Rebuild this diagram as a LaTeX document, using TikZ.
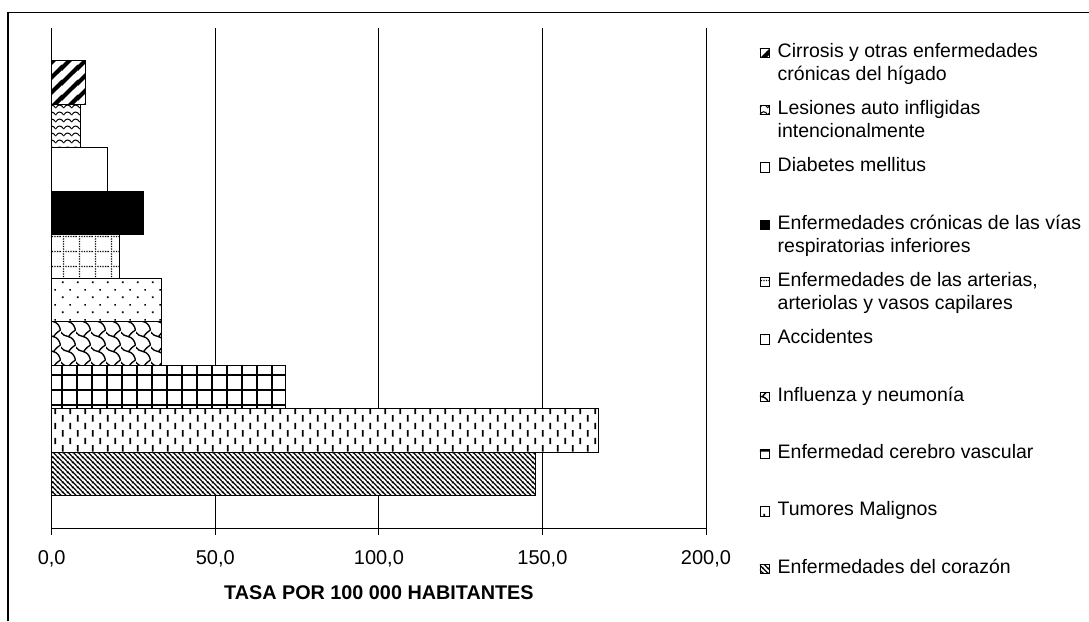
\documentclass[tikz,border=0pt]{standalone}
\usepackage{fontspec}
\setmainfont{Liberation Sans}
\usetikzlibrary{patterns}
% ---------- patterns (pgf units, y up) ----------
\pgfdeclarepatternformonly{wideup}{\pgfpointorigin}{\pgfpoint{15.4pt}{15.4pt}}{\pgfpoint{15.4pt}{15.4pt}}{%
  \pgfsetlinewidth{4.2pt}%
  \pgfpathmoveto{\pgfpoint{-2pt}{-2pt}}\pgfpathlineto{\pgfpoint{17.4pt}{17.4pt}}%
  \pgfpathmoveto{\pgfpoint{-2pt}{13.4pt}}\pgfpathlineto{\pgfpoint{2pt}{17.4pt}}%
  \pgfpathmoveto{\pgfpoint{13.4pt}{-2pt}}\pgfpathlineto{\pgfpoint{17.4pt}{2pt}}%
  \pgfusepath{stroke}}
\pgfdeclarepatternformonly{darkdown}{\pgfpointorigin}{\pgfpoint{4.8pt}{4.8pt}}{\pgfpoint{4.8pt}{4.8pt}}{%
  \pgfsetlinewidth{1.25pt}%
  \pgfpathmoveto{\pgfpoint{-1pt}{5.8pt}}\pgfpathlineto{\pgfpoint{5.8pt}{-1pt}}%
  \pgfpathmoveto{\pgfpoint{-1pt}{1pt}}\pgfpathlineto{\pgfpoint{1pt}{-1pt}}%
  \pgfpathmoveto{\pgfpoint{3.8pt}{5.8pt}}\pgfpathlineto{\pgfpoint{5.8pt}{3.8pt}}%
  \pgfusepath{stroke}}
\pgfdeclarepatternformonly{wavy}{\pgfpointorigin}{\pgfpoint{8pt}{7pt}}{\pgfpoint{8pt}{7pt}}{%
  \pgfsetlinewidth{1.1pt}%
  \pgfpathmoveto{\pgfpoint{-0.5pt}{2.2pt}}%
  \pgfpathcurveto{\pgfpoint{1.2pt}{4.5pt}}{\pgfpoint{2.5pt}{5.6pt}}{\pgfpoint{4pt}{5.6pt}}%
  \pgfpathcurveto{\pgfpoint{5.5pt}{5.6pt}}{\pgfpoint{6.8pt}{4.5pt}}{\pgfpoint{8.5pt}{2.2pt}}%
  \pgfusepath{stroke}}
\pgfdeclarepatternformonly{dotgrid}{\pgfpointorigin}{\pgfpoint{15.4pt}{15.4pt}}{\pgfpoint{15.4pt}{15.4pt}}{%
  \foreach \i in {0,1,...,5}{\pgfpathrectangle{\pgfpoint{\i*2.566pt+1pt}{1pt}}{\pgfpoint{1.3pt}{1.3pt}}}%
  \foreach \i in {1,...,5}{\pgfpathrectangle{\pgfpoint{1pt}{\i*2.566pt+1pt}}{\pgfpoint{1.3pt}{1.3pt}}}%
  \pgfusepath{fill}}
\pgfdeclarepatternformonly{sparsedots}{\pgfpointorigin}{\pgfpoint{15.4pt}{15.4pt}}{\pgfpoint{15.4pt}{15.4pt}}{%
  \pgfpathrectangle{\pgfpoint{1pt}{1pt}}{\pgfpoint{1.6pt}{1.6pt}}%
  \pgfpathrectangle{\pgfpoint{8.7pt}{8.7pt}}{\pgfpoint{1.6pt}{1.6pt}}%
  \pgfusepath{fill}}
\pgfdeclarepatternformonly{shingle}{\pgfpointorigin}{\pgfpoint{15.4pt}{15.4pt}}{\pgfpoint{15.4pt}{15.4pt}}{%
  \pgfsetlinewidth{1.4pt}%
  \pgfpathmoveto{\pgfpoint{-0.5pt}{13.5pt}}%
  \pgfpathcurveto{\pgfpoint{2pt}{11pt}}{\pgfpoint{4pt}{8.6pt}}{\pgfpoint{7.7pt}{8.6pt}}%
  \pgfpathcurveto{\pgfpoint{11pt}{8pt}}{\pgfpoint{14pt}{5pt}}{\pgfpoint{14.9pt}{0pt}}%
  \pgfpathlineto{\pgfpoint{14.9pt}{-1pt}}%
  \pgfpathmoveto{\pgfpoint{14.9pt}{15.4pt}}\pgfpathlineto{\pgfpoint{14.9pt}{16.4pt}}%
  \pgfpathmoveto{\pgfpoint{7.7pt}{8.6pt}}%
  \pgfpathcurveto{\pgfpoint{9pt}{10.5pt}}{\pgfpoint{11pt}{13pt}}{\pgfpoint{14.9pt}{15.4pt}}%
  \pgfusepath{stroke}}
\pgfdeclarepatternformonly{bigrid}{\pgfpointorigin}{\pgfpoint{15.4pt}{15.4pt}}{\pgfpoint{15.4pt}{15.4pt}}{%
  \pgfpathrectangle{\pgfpoint{0pt}{0pt}}{\pgfpoint{2pt}{15.4pt}}%
  \pgfpathrectangle{\pgfpoint{0pt}{0pt}}{\pgfpoint{15.4pt}{2pt}}%
  \pgfusepath{fill}}
\pgfdeclarepatternformonly{vdash}{\pgfpointorigin}{\pgfpoint{15.4pt}{15.4pt}}{\pgfpoint{15.4pt}{15.4pt}}{%
  \pgfpathrectangle{\pgfpoint{1pt}{0.5pt}}{\pgfpoint{1.8pt}{6.5pt}}%
  \pgfpathrectangle{\pgfpoint{8.7pt}{8.2pt}}{\pgfpoint{1.8pt}{6.5pt}}%
  \pgfusepath{fill}}
% ---------- styles ----------
\tikzset{
  frameline/.style={line width=1.3pt},
  gridline/.style={line width=1pt},
  barbox/.style={draw=black, line width=1pt, preaction={fill=white}},
  tick/.style={font=\fontsize{20}{24}\selectfont, anchor=base},
  axtitle/.style={font=\bfseries\fontsize{19.8}{24}\selectfont, anchor=base},
  legtext/.style={font=\fontsize{19.5}{23}\selectfont, anchor=base west, inner sep=0pt},
  legmark/.style={draw=black, line width=0.9pt, minimum size=9.5pt, inner sep=0pt, anchor=south west, preaction={fill=white}},
}
\newcommand{\twoline}[2]{\vtop{\hbox{#1}\hbox{#2}}}
\begin{document}
\begin{tikzpicture}[x=1pt,y=-1pt]
\useasboundingbox (0,0) rectangle (1089,621);
% outer frame
\draw[frameline] (8,621) -- (8,12.5) -- (1089,12.5);
% gridlines
\foreach \v in {50,100,150,200}{
  \draw[gridline] ({51.7+3.2715*\v},28) -- ({51.7+3.2715*\v},535);
}
% bars (value -> x = 51.7 + 3.2715*value), band height 43.5
\def\bx#1{51.7+3.2715*#1}
\draw[barbox, pattern=wideup]     (51.7,60.5)  rectangle ({\bx{10.2}},104);
\draw[barbox, pattern=wavy]       (51.7,104)   rectangle ({\bx{8.7}},147.5);
\draw[barbox, fill=white]         (51.7,147.5) rectangle ({\bx{17.2}},191);
\draw[barbox, fill=black]         (51.7,191)   rectangle ({\bx{28.2}},234.5);
\draw[barbox, pattern=dotgrid]    (51.7,234.5) rectangle ({\bx{20.6}},278);
\draw[barbox, pattern=sparsedots] (51.7,278)   rectangle ({\bx{33.7}},321.5);
\draw[barbox, pattern=shingle]    (51.7,321.5) rectangle ({\bx{33.6}},365);
\draw[barbox, pattern=bigrid]     (51.7,365)   rectangle ({\bx{71.6}},408.5);
\draw[barbox, pattern=vdash]      (51.7,408.5) rectangle ({\bx{167}},452);
\draw[barbox, pattern=darkdown]   (51.7,452)   rectangle ({\bx{148}},495.5);
% axes
\draw[gridline] (51.7,28) -- (51.7,535);
\draw[gridline] (51.7,528) -- (706,528);
% tick labels
\node[tick] (t0)   at (51.7,564)  {0,0};
\node[tick] (t50)  at (215.3,564) {50,0};
\node[tick] (t100) at (378.9,564) {100,0};
\node[tick] (t150) at (542.4,564) {150,0};
\node[tick] (t200) at (706,564)   {200,0};
\node[axtitle] (xtitle) at (378.9,599) {TASA POR 100 000 HABITANTES};
% legend
\def\lx{777.5}
\def\mx{759.5}
\node[legmark, pattern=wideup]     (m1)  at (\mx,58)    {};
\node[legtext] (l1)  at (\lx,57)    {\twoline{Cirrosis y otras enfermedades}{crónicas del hígado}};
\node[legmark, pattern=wavy]       (m2)  at (\mx,115.3) {};
\node[legtext] (l2)  at (\lx,114.3) {\twoline{Lesiones auto infligidas}{intencionalmente}};
\node[legmark, fill=white]         (m3)  at (\mx,172.7) {};
\node[legtext] (l3)  at (\lx,171.7) {Diabetes mellitus};
\node[legmark, fill=black]         (m4)  at (\mx,230)   {};
\node[legtext] (l4)  at (\lx,229)   {\twoline{Enfermedades crónicas de las vías}{respiratorias inferiores}};
\node[legmark, pattern=dotgrid]    (m5)  at (\mx,287.3) {};
\node[legtext] (l5)  at (\lx,286.3) {\twoline{Enfermedades de las arterias,}{arteriolas y vasos capilares}};
\node[legmark, pattern=sparsedots] (m6)  at (\mx,344.7) {};
\node[legtext] (l6)  at (\lx,343.7) {Accidentes};
\node[legmark, pattern=shingle]    (m7)  at (\mx,402)   {};
\node[legtext] (l7)  at (\lx,401)   {Influenza y neumonía};
\node[legmark, pattern=bigrid]     (m8)  at (\mx,459.3) {};
\node[legtext] (l8)  at (\lx,458.3) {Enfermedad cerebro vascular};
\node[legmark, pattern=vdash]      (m9)  at (\mx,516.7) {};
\node[legtext] (l9)  at (\lx,515.7) {Tumores Malignos};
\node[legmark, pattern=darkdown]   (m10) at (\mx,574)   {};
\node[legtext] (l10) at (\lx,573)   {Enfermedades del corazón};
\end{tikzpicture}
\end{document}
